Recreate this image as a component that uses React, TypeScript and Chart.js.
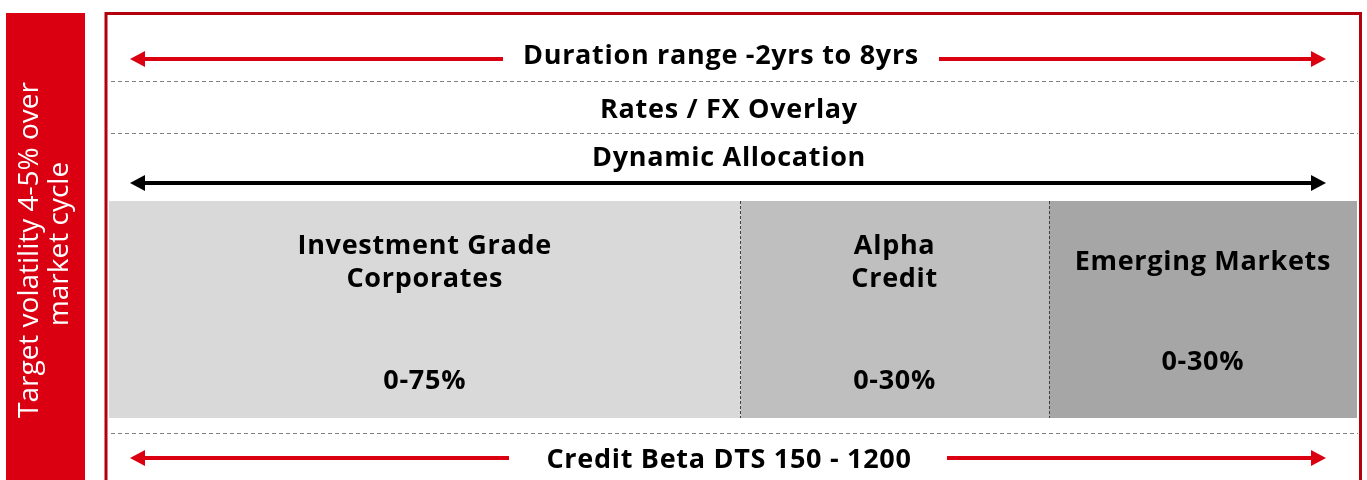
import React, { useEffect, useRef } from "react";
import { Chart, registerables } from "chart.js";

Chart.register(...registerables);

// ---- data ----
const categories: string[] = ["Investment Grade\nCorporates", "Alpha\nCredit", "Emerging Markets"];
const allocationRanges: string[] = ["0-75%", "0-30%", "0-30%"];
const segmentShares: number[] = [50.6, 24.7, 24.7];
const segmentColors: string[] = ["#d9d9d9", "#bfbfbf", "#a6a6a6"];
const topLabels: string[] = ["Duration range -2yrs to 8yrs", "Rates / FX Overlay", "Dynamic Allocation"];
const bottomLabel: string = "Credit Beta DTS 150 - 1200";
const sideLabel: string[] = ["Target volatility 4-5% over", "market cycle"];

const RED = "#db0011";
const DARK_RED = "#b3000f";
const TITLE_FONT = "bold 27px 'Open Sans', 'Liberation Sans', sans-serif";

function arrowHead(ctx: CanvasRenderingContext2D, tipX: number, y: number, dir: number, color: string) {
  ctx.fillStyle = color;
  ctx.beginPath();
  ctx.moveTo(tipX, y);
  ctx.lineTo(tipX - dir * 15, y - 8);
  ctx.lineTo(tipX - dir * 15, y + 8);
  ctx.closePath();
  ctx.fill();
}

function hLine(ctx: CanvasRenderingContext2D, x1: number, x2: number, y: number, color: string, w: number) {
  ctx.strokeStyle = color;
  ctx.lineWidth = w;
  ctx.setLineDash([]);
  ctx.beginPath();
  ctx.moveTo(x1, y);
  ctx.lineTo(x2, y);
  ctx.stroke();
}

function dashed(ctx: CanvasRenderingContext2D, x1: number, y1: number, x2: number, y2: number, color: string, dash: number[]) {
  ctx.strokeStyle = color;
  ctx.lineWidth = 1;
  ctx.setLineDash(dash);
  ctx.beginPath();
  ctx.moveTo(x1, y1);
  ctx.lineTo(x2, y2);
  ctx.stroke();
  ctx.setLineDash([]);
}

function setTitleFont(ctx: CanvasRenderingContext2D) {
  ctx.font = TITLE_FONT;
  (ctx as any).letterSpacing = "0.7px";
  ctx.textAlign = "center";
  ctx.textBaseline = "middle";
}

const diagramPlugin = {
  id: "diagram",
  beforeDraw(chart: any) {
    const ctx: CanvasRenderingContext2D = chart.ctx;
    ctx.save();
    ctx.fillStyle = "#ffffff";
    ctx.fillRect(0, 0, chart.width, chart.height);
    ctx.restore();
  },
  afterDraw(chart: any) {
    const ctx: CanvasRenderingContext2D = chart.ctx;
    const area = chart.chartArea;
    ctx.save();

    // side red bar with rotated text
    ctx.fillStyle = RED;
    ctx.fillRect(6, 13, 79, 480);
    ctx.save();
    ctx.translate(45, 250);
    ctx.rotate(-Math.PI / 2);
    ctx.fillStyle = "#ffffff";
    ctx.font = "28px 'Open Sans', 'Liberation Sans', sans-serif";
    ctx.textAlign = "center";
    ctx.textBaseline = "middle";
    ctx.fillText(sideLabel[0], 0, -15);
    ctx.fillText(sideLabel[1], 6, 15);
    ctx.restore();

    // outer red frame
    ctx.strokeStyle = DARK_RED;
    ctx.lineWidth = 3;
    ctx.setLineDash([]);
    ctx.strokeRect(106, 13.5, 1254.5, 500);

    const left = 130;
    const right = 1326;

    // text
    ctx.fillStyle = "#000000";
    setTitleFont(ctx);
    ctx.fillText(topLabels[0], 721, 56);
    ctx.fillText(topLabels[1], 729, 110);
    ctx.fillText(topLabels[2], 729, 158);
    ctx.fillText(bottomLabel, 729, 460);

    // top red arrows
    hLine(ctx, left + 10, 503, 59, RED, 4);
    arrowHead(ctx, left, 59, -1, RED);
    hLine(ctx, 939, right - 10, 59, RED, 4);
    arrowHead(ctx, right, 59, 1, RED);

    // dashed separators
    dashed(ctx, 111, 81.5, 1358, 81.5, "#808080", [4, 3]);
    dashed(ctx, 111, 133.5, 1358, 133.5, "#808080", [4, 3]);
    dashed(ctx, 111, 433.5, 1358, 433.5, "#808080", [4, 3]);

    // black double arrow
    hLine(ctx, left + 10, right - 10, 183, "#000000", 4);
    arrowHead(ctx, left, 183, -1, "#000000");
    arrowHead(ctx, right, 183, 1, "#000000");

    // bottom red arrows
    hLine(ctx, left + 10, 509, 458, RED, 4);
    arrowHead(ctx, left, 458, -1, RED);
    hLine(ctx, 947, right - 10, 458, RED, 4);
    arrowHead(ctx, right, 458, 1, RED);

    // segment labels + dividers
    categories.forEach((cat, i) => {
      const el = chart.getDatasetMeta(i).data[0];
      if (!el) return;
      const x0 = Math.min(el.base, el.x);
      const x1 = Math.max(el.base, el.x);
      const cx = (x0 + x1) / 2;
      const lines = cat.split("\n");
      setTitleFont(ctx);
      ctx.fillStyle = "#000000";
      if (lines.length === 2) {
        ctx.fillText(lines[0], cx, area.top + 45);
        ctx.fillText(lines[1], cx, area.top + 78);
        ctx.fillText(allocationRanges[i], cx, area.top + 180);
      } else {
        ctx.fillText(lines[0], cx, area.top + 61);
        ctx.fillText(allocationRanges[i], cx, area.top + 161);
      }
      if (i > 0) {
        const dx = Math.round(x0) + 0.5;
        dashed(ctx, dx, area.top, dx, area.bottom, "#404040", [3, 2]);
      }
    });

    ctx.restore();
  },
};

export default function App() {
  const canvasRef = useRef<HTMLCanvasElement | null>(null);

  useEffect(() => {
    const canvas = canvasRef.current;
    if (!canvas) return;
    const chart = new Chart(canvas, {
      type: "bar",
      data: {
        labels: ["Allocation"],
        datasets: categories.map((c, i) => ({
          label: c,
          data: [segmentShares[i]],
          backgroundColor: segmentColors[i],
          borderWidth: 0,
          barPercentage: 1,
          categoryPercentage: 1,
        })),
      },
      options: {
        indexAxis: "y",
        animation: false,
        responsive: false,
        devicePixelRatio: 1,
        layout: { padding: { left: 109, right: 10, top: 201, bottom: 62 } },
        plugins: {
          legend: { display: false },
          tooltip: { enabled: false },
          title: { display: false },
        },
        scales: {
          x: { stacked: true, min: 0, max: 100, display: false },
          y: { stacked: true, display: false },
        },
      },
      plugins: [diagramPlugin],
    });
    return () => chart.destroy();
  }, []);

  return (
    <div style={{ position: "fixed", left: 0, top: 0, width: 1367, height: 480, background: "#fff" }}>
      <canvas ref={canvasRef} width={1367} height={480} style={{ display: "block" }} />
    </div>
  );
}
